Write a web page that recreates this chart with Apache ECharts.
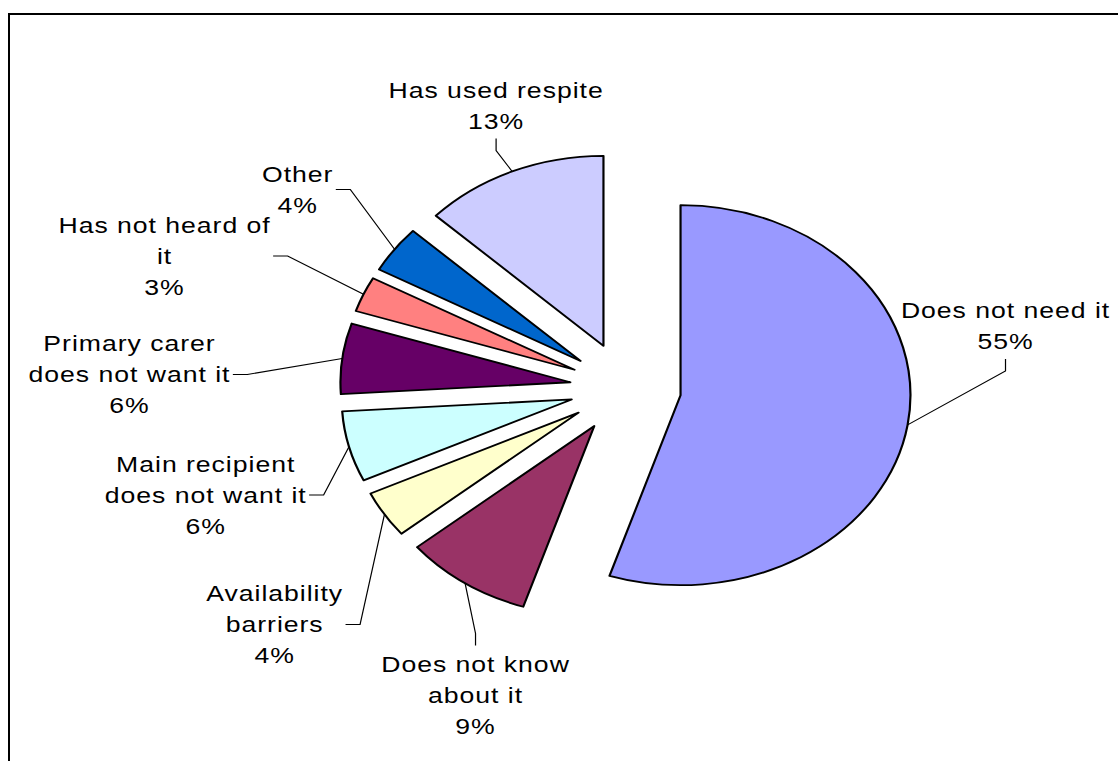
<!DOCTYPE html>
<html>
<head>
<meta charset="utf-8">
<title>Respite use</title>
<script src="https://cdn.jsdelivr.net/npm/echarts@6/dist/echarts.min.js"></script>
<style>
  html, body { margin: 0; padding: 0; background: #fff; overflow: hidden; }
  #frame {
    position: absolute; left: 8px; top: 13px;
    width: 1300px; height: 900px;
    border-left: 2px solid #000; border-top: 2px solid #000;
  }
  #chart {
    position: absolute; left: 0; top: 0;
    width: 924px; height: 761px;
    transform: scaleX(1.21); transform-origin: 0 0;
  }
  #chart text { letter-spacing: 0.8px; }
</style>
</head>
<body>
<div id="frame"></div>
<div id="chart"></div>
<script>
// Categories in clockwise order from twelve o'clock
const categories = [
  'Does not need it',
  'Does not know\nabout it',
  'Availability\nbarriers',
  'Main recipient\ndoes not want it',
  'Primary carer\ndoes not want it',
  'Has not heard of\nit',
  'Other',
  'Has used respite'
];
// Share of carers (%)
const shares = [55, 9, 4, 6, 6, 3, 4, 13];
const sliceColors = ['#9999FF', '#993366', '#FFFFCC', '#CCFFFF', '#660066', '#FF8080', '#0066CC', '#CCCCFF'];

// Label block centres (chart pixels) and the side the leader line leaves from
const labelSpots = [
  [831, 326], [393, 695], [227, 624.5], [170, 495],
  [107, 374.5], [136, 256], [246, 189.5], [410, 105.5]
];
const leaderSides = ['bottom', 'top', 'right', 'right', 'right', 'right', 'right', 'bottom'];

const CENTER = [517, 388];
const RADIUS = 190;
const EXPLODE = 46;
const TICK = 12;
const LETTER_SPACING = 0.8;

const chart = echarts.init(document.getElementById('chart'), null, { renderer: 'svg' });

const sliceStyle = { borderColor: '#000', borderWidth: 1.8 };
const total = shares.reduce((a, b) => a + b, 0);

// Mid-angle (radians, clockwise from twelve o'clock) of each slice
const midAngles = shares.map((v, i) => {
  const before = shares.slice(0, i).reduce((a, b) => a + b, 0);
  return (before + v / 2) / total * Math.PI * 2;
});

// Leader line: outer arc of the exploded slice -> short tick -> label edge
function leaderPoints(i, rect) {
  const a = midAngles[i];
  const reach = EXPLODE + RADIUS;
  const edge = [CENTER[0] + reach * Math.sin(a), CENTER[1] - reach * Math.cos(a)];
  const [x, y] = labelSpots[i];
  const lines = categories[i].split('\n').concat([shares[i] + '%']);
  const longest = Math.max(...lines.map(s => s.length));
  const halfW = rect.width / 2 + LETTER_SPACING * longest / 2 + 2;
  const halfH = rect.height / 2;
  let p0, p1;
  if (leaderSides[i] === 'bottom') {
    p0 = [x, y + halfH + 2]; p1 = [x, y + halfH + 2 + TICK];
  } else if (leaderSides[i] === 'top') {
    p0 = [x, y - halfH - 3]; p1 = [x, y - halfH - 3 - TICK];
  } else {
    p0 = [x + halfW, y]; p1 = [x + halfW + TICK, y];
  }
  return [edge, p1, p0];
}

const textStyle = {
  color: '#000',
  fontFamily: '"Liberation Sans", Arial, sans-serif',
  fontSize: 22,
  lineHeight: 31
};

chart.setOption({
  backgroundColor: 'transparent',
  animation: false,
  series: [
    {
      // Exploded slices
      type: 'pie',
      center: CENTER,
      radius: RADIUS,
      startAngle: 90,
      clockwise: true,
      selectedMode: 'multiple',
      selectedOffset: EXPLODE,
      emphasis: { disabled: true },
      itemStyle: sliceStyle,
      select: { itemStyle: sliceStyle },
      label: { show: false },
      labelLine: { show: false },
      data: categories.map((name, i) => ({
        name: name,
        value: shares[i],
        selected: true,
        itemStyle: { color: sliceColors[i] }
      }))
    },
    {
      // Category and percentage labels with leader lines
      type: 'pie',
      silent: true,
      center: CENTER,
      radius: RADIUS,
      startAngle: 90,
      clockwise: true,
      avoidLabelOverlap: false,
      emphasis: { disabled: true },
      itemStyle: { color: 'rgba(0,0,0,0)', borderWidth: 0 },
      label: Object.assign({
        show: true,
        position: 'outside',
        align: 'center',
        formatter: p => p.name + '\n' + p.value + '%'
      }, textStyle),
      labelLine: {
        show: true,
        length: 10,
        length2: TICK,
        lineStyle: { color: '#000', width: 1 }
      },
      labelLayout: p => ({
        x: labelSpots[p.dataIndex][0],
        y: labelSpots[p.dataIndex][1],
        align: 'center',
        verticalAlign: 'middle',
        labelLinePoints: leaderPoints(p.dataIndex, p.labelRect)
      }),
      data: categories.map((name, i) => ({ name: name, value: shares[i] }))
    }
  ]
});
</script>
</body>
</html>
